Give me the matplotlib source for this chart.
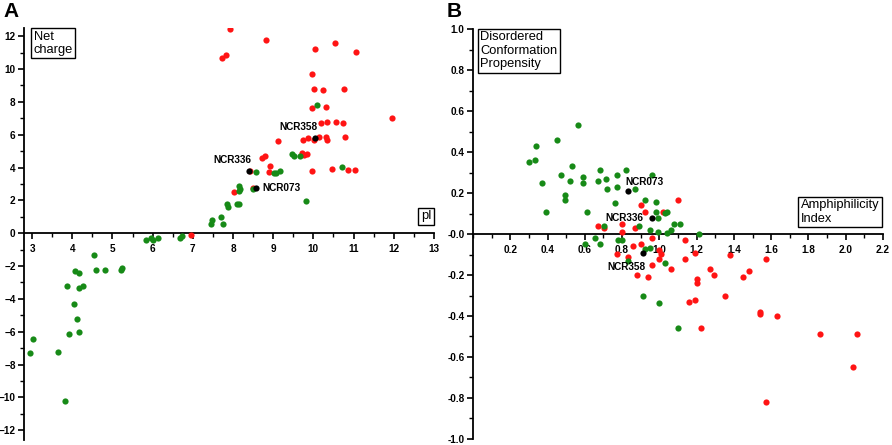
import numpy as np
import matplotlib
matplotlib.use("Agg")
from matplotlib import pyplot as plt
from matplotlib.ticker import MultipleLocator, FormatStrFormatter

plt.rcParams['font.family'] = ['Liberation Sans', 'DejaVu Sans']

# panel A: isoelectric point vs net charge
red_pi = [7.93, 7.72, 7.83, 8.83, 10.04, 10.53, 11.05, 9.97, 10.02, 10.25, 10.77,
          9.97, 10.32, 11.96, 10.18, 10.34, 10.57, 10.73, 9.73, 9.87, 10.02, 10.15,
          10.32, 10.35, 10.78, 9.11, 8.72, 8.80, 9.72, 9.76, 9.83, 8.92, 8.90, 9.96,
          10.46, 10.85, 11.03, 8.43, 8.49, 8.03, 6.95]
red_q = [12.44, 10.65, 10.85, 11.79, 11.22, 11.59, 11.06, 9.70, 8.78, 8.70, 8.78,
         7.60, 7.68, 6.99, 6.69, 6.79, 6.79, 6.69, 5.69, 5.77, 5.69, 5.89,
         5.89, 5.69, 5.89, 5.59, 4.60, 4.70, 4.90, 4.75, 4.80, 4.11, 3.70, 3.78,
         3.90, 3.88, 3.88, 3.78, 2.74, 2.48, -0.10]
green_pi = [10.09, 9.47, 9.52, 9.67, 10.72, 8.57, 9.02, 9.07, 9.17, 8.14, 8.15, 8.17,
            8.11, 8.16, 7.85, 7.87, 9.81, 7.71, 7.76, 7.48, 7.45, 8.51,
            2.95, 3.03, 3.65, 3.81, 3.88, 3.93, 4.04, 4.12, 4.18, 4.08, 4.18, 4.17,
            4.26, 4.55, 4.60, 4.81, 5.22, 5.25, 5.83, 5.97, 6.02, 6.14, 6.68, 6.73]
green_q = [7.82, 4.80, 4.68, 4.70, 4.01, 3.71, 3.69, 3.67, 3.81, 2.89, 2.60, 2.72,
           1.79, 1.79, 1.79, 1.59, 1.99, 0.98, 0.57, 0.81, 0.57, 2.68,
           -7.32, -6.42, -7.22, -10.22, -3.21, -6.12, -4.31, -5.20, -6.02, -2.32, -2.42, -3.31,
           -3.21, -1.30, -2.22, -2.22, -2.22, -2.11, -0.41, -0.30, -0.41, -0.30, -0.30, -0.20]
ncr_pi = [10.04, 8.40, 8.57]
ncr_q = [5.77, 3.80, 2.78]
ncr_names_a = ["NCR358", "NCR336", "NCR073"]

# panel B: amphiphilicity index vs disordered conformation propensity
green_ai = [0.302, 0.330, 0.339, 0.371, 0.391, 0.452, 0.471, 0.491, 0.491, 0.521,
            0.530, 0.561, 0.591, 0.591, 0.611, 0.680, 0.671, 0.711, 0.721, 0.761,
            0.771, 0.771, 0.821, 0.871, 0.921, 0.961, 0.982, 0.982, 0.991, 1.032,
            1.043, 1.080, 1.111, 1.212, 0.891, 0.952, 0.991, 0.702,
            0.602, 0.652, 0.680, 0.780, 0.802, 0.830, 0.921, 0.952, 0.911, 1.000,
            1.030, 1.039, 1.061, 1.100]
green_dcp = [0.349, 0.359, 0.431, 0.248, 0.108, 0.460, 0.290, 0.191, 0.168, 0.259,
             0.331, 0.530, 0.279, 0.248, 0.109, 0.310, 0.259, 0.269, 0.219, 0.150,
             0.290, 0.228, 0.310, 0.219, 0.168, 0.290, 0.158, 0.109, 0.077, 0.101,
             0.109, 0.049, 0.049, 0.000, 0.039, 0.018, 0.010, 0.039,
             -0.050, -0.019, -0.050, -0.031, -0.031, -0.130, -0.071, -0.068, -0.300, -0.339,
             -0.140, 0.006, 0.018, -0.459]
red_ai = [0.671, 0.702, 0.802, 0.802, 0.871, 0.902, 0.921, 1.021, 1.102,
          0.770, 0.830, 0.861, 0.880, 0.902, 0.939, 0.961, 0.961, 1.000, 1.000,
          1.011, 1.061, 1.139, 1.139, 1.159, 1.189, 1.189, 1.200, 1.200, 1.221,
          1.271, 1.291, 1.350, 1.380, 1.450, 1.480, 1.539, 1.539, 1.570, 1.570,
          1.630, 1.861, 2.041, 2.061]
red_dcp = [0.039, 0.028, 0.049, 0.010, 0.028, 0.140, 0.109, 0.109, 0.168,
           -0.099, -0.110, -0.058, -0.200, -0.050, -0.209, -0.019, -0.149, -0.080, -0.120,
           -0.097, -0.170, -0.031, -0.120, -0.330, -0.091, -0.320, -0.219, -0.240, -0.459,
           -0.170, -0.200, -0.300, -0.101, -0.209, -0.180, -0.380, -0.390, -0.120, -0.820,
           -0.399, -0.490, -0.649, -0.490]
ncr_ai = [0.830, 0.961, 0.911]
ncr_dcp = [0.209, 0.077, -0.091]
ncr_names_b = ["NCR073", "NCR336", "NCR358"]

RED = '#ff1414'
GREEN = '#178a17'
DOT = 20

# label placement: (dx, dy in points, ha, va)
offs_a = {"NCR358": (2, 5, 'right', 'bottom'),
          "NCR336": (2, 4, 'right', 'bottom'),
          "NCR073": (5, 0, 'left', 'center')}
offs_b = {"NCR073": (-2, 3, 'left', 'bottom'),
          "NCR336": (-6, 0, 'right', 'center'),
          "NCR358": (2, -7, 'right', 'top')}


def style_axes(ax):
    for s in ['top', 'right']:
        ax.spines[s].set_visible(False)
    ax.spines['bottom'].set_position(('data', 0))
    for s in ['left', 'bottom']:
        ax.spines[s].set_linewidth(1.3)
    ax.tick_params(which='major', length=4, width=1.2, pad=2, labelsize=7.2)
    ax.tick_params(which='minor', length=3, width=1.0)
    ax.tick_params(axis='x', pad=4)
    for lab in ax.get_xticklabels() + ax.get_yticklabels():
        lab.set_fontweight('bold')


def box_text(ax, x, y, s, ha, va):
    ax.text(x, y, s, transform=ax.transAxes, ha=ha, va=va, fontsize=9.3,
            linespacing=1.15, multialignment='left',
            bbox=dict(boxstyle='square,pad=0.2', fc='white', ec='black', lw=1.0))


def label_points(ax, xs, ys, names, offs):
    for x, y, n in zip(xs, ys, names):
        dx, dy, ha, va = offs[n]
        ax.annotate(n, (x, y), xytext=(dx, dy), textcoords='offset points',
                    ha=ha, va=va, fontsize=7.2, fontweight='bold')


fig = plt.figure(figsize=(8.92, 4.45), dpi=100)
ax1 = fig.add_axes([0.0269, 0.0112, 0.4596, 0.9258])
ax2 = fig.add_axes([0.5303, 0.0135, 0.4596, 0.9213])

# panel A
ax1.scatter(red_pi, red_q, s=DOT, c=RED, linewidths=0, zorder=3)
ax1.scatter(green_pi, green_q, s=DOT, c=GREEN, linewidths=0, zorder=3)
ax1.scatter(ncr_pi, ncr_q, s=DOT, c='black', linewidths=0, zorder=4)
label_points(ax1, ncr_pi, ncr_q, ncr_names_a, offs_a)
ax1.set_xlim(2.8, 13.0)
ax1.set_ylim(-12.6, 12.5)
ax1.set_xticks(np.arange(3, 14, 1))
ax1.set_yticks(np.arange(-12, 13, 2))
ax1.xaxis.set_minor_locator(MultipleLocator(0.5))
ax1.yaxis.set_minor_locator(MultipleLocator(1))
style_axes(ax1)
box_text(ax1, 0.0232, 0.994, "Net\ncharge", 'left', 'top')
box_text(ax1, 0.994, 0.528, "pI", 'right', 'bottom')

# panel B
ax2.scatter(red_ai, red_dcp, s=DOT, c=RED, linewidths=0, zorder=3)
ax2.scatter(green_ai, green_dcp, s=DOT, c=GREEN, linewidths=0, zorder=3)
ax2.scatter(ncr_ai, ncr_dcp, s=DOT, c='black', linewidths=0, zorder=4)
label_points(ax2, ncr_ai, ncr_dcp, ncr_names_b, offs_b)
ax2.set_xlim(0.0, 2.2)
ax2.set_ylim(-1.0, 1.0)
ax2.set_xticks(np.arange(0.2, 2.21, 0.2))
ax2.set_yticks(np.arange(-1.0, 1.01, 0.2))
ax2.xaxis.set_minor_locator(MultipleLocator(0.1))
ax2.yaxis.set_minor_locator(MultipleLocator(0.1))
ax2.xaxis.set_major_formatter(FormatStrFormatter('%.1f'))
ax2.yaxis.set_major_formatter(FormatStrFormatter('%.1f'))
style_axes(ax2)
box_text(ax2, 0.018, 0.994, "Disordered\nConformation\nPropensity", 'left', 'top')
box_text(ax2, 0.991, 0.523, "Amphiphilicity\nIndex", 'right', 'bottom')

fig.text(0.004, 0.995, "A", fontsize=15, fontweight='bold', ha='left', va='top')
fig.text(0.501, 0.995, "B", fontsize=15, fontweight='bold', ha='left', va='top')

fig.savefig("out.png", dpi=100)
